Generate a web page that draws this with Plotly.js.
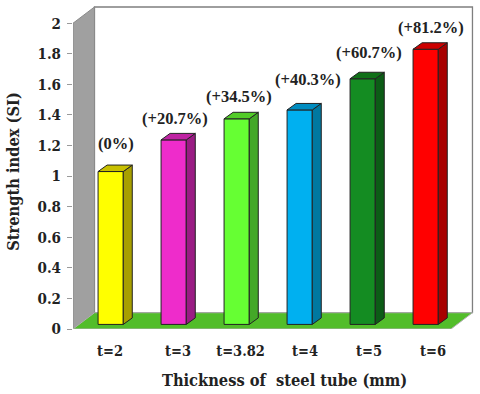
<!DOCTYPE html>
<html>
<head>
<meta charset="utf-8">
<script src="https://cdn.plot.ly/plotly-3.0.1.min.js"></script>
<style>html,body{margin:0;padding:0;background:#fff}</style>
</head>
<body>
<div id="chart" style="width:480px;height:394px"></div>
<script>
var categories = ['t=2', 't=3', 't=3.82', 't=4', 't=5', 't=6'];
var strengthIndex = [1.0, 1.207, 1.345, 1.403, 1.607, 1.80];
var gainLabels = ['(0%)', '(+20.7%)', '(+34.5%)', '(+40.3%)', '(+60.7%)', '(+81.2%)'];
var frontColors = ['#ffff00', '#ee2ccb', '#66ff33', '#00b0f0', '#148c22', '#ff0000'];
var sideColors = ['#a8a000', '#9a1c84', '#44a828', '#0078a0', '#0c5c16', '#a80000'];
var topColors = ['#c8c000', '#be22a2', '#52cc28', '#008cc0', '#107018', '#cc0000'];
var yTicks = [0, 0.2, 0.4, 0.6, 0.8, 1, 1.2, 1.4, 1.6, 1.8, 2];
var yTickText = ['0', '0.2', '0.4', '0.6', '0.8', '1', '1.2', '1.4', '1.6', '1.8', '2'];
var tickShift = [0.087, 0.167, 0.159, 0.183, 0.198, 0.214];
var labelShiftX = [5, 1, 2, 8, 6, 5];
var labelShiftY = [28, 21, 22, 30, 26, 22];

var FONT = 'Liberation Serif, serif';
var WIDE = 'DejaVu Serif Condensed, DejaVu Serif, serif';
var INK = '#222222';
var barOffset = 0.098, barWidth = 0.40, barBase = 0.03;
var barDx = 0.143, barDy = 0.0425;
var wallDx = 0.341, wallDy = 0.1065;
var xMin = -0.5, xMax = 5.897, yMax = 2.126;

var xs = categories.map(function (_, i) { return i + barOffset; });
var tops = strengthIndex.map(function (v) { return v + barBase; });
var traces = [{
  type: 'bar', x: xs, y: strengthIndex,
  base: strengthIndex.map(function () { return barBase; }),
  width: barWidth, hoverinfo: 'skip',
  marker: { color: frontColors, line: { color: INK, width: 1 } }
}];
tops.forEach(function (v, i) {
  var l = xs[i] - barWidth / 2, r = xs[i] + barWidth / 2;
  traces.push({
    type: 'scatter', mode: 'lines', fill: 'toself', fillcolor: sideColors[i], hoverinfo: 'skip',
    line: { color: INK, width: 1 },
    x: [r, r + barDx, r + barDx, r, r],
    y: [barBase, barBase + barDy, v + barDy, v, barBase]
  });
  traces.push({
    type: 'scatter', mode: 'lines', fill: 'toself', fillcolor: topColors[i], hoverinfo: 'skip',
    line: { color: INK, width: 1 },
    x: [l, l + barDx, r + barDx, r, l],
    y: [v, v + barDy, v + barDy, v, v]
  });
});

function poly(pts) {
  return 'M' + pts.map(function (p) { return p[0] + ',' + p[1]; }).join('L') + 'Z';
}
var backLeft = xMin + wallDx, backRight = 5.5 + wallDx;
var shapes = [
  { type: 'rect', layer: 'below', xref: 'x', yref: 'y', x0: backLeft, x1: backRight, y0: wallDy, y1: 2 + wallDy,
    fillcolor: '#ffffff', line: { color: '#7f7f7f', width: 1.3 } },
  { type: 'path', layer: 'below', xref: 'x', yref: 'y',
    path: poly([[xMin, 0], [xMin, 2], [backLeft, 2 + wallDy], [backLeft, wallDy]]),
    fillcolor: '#a0a0a0', line: { color: '#8a8a8a', width: 1 } },
  { type: 'path', layer: 'below', xref: 'x', yref: 'y',
    path: poly([[xMin, 0], [5.5, 0], [backRight, wallDy], [backLeft, wallDy]]),
    fillcolor: '#52bd2a', line: { color: '#b0b0b0', width: 1 } }
];

var annotations = gainLabels.map(function (t, i) {
  return { x: i + barOffset, y: tops[i], xref: 'x', yref: 'y', text: '<b>' + t + '</b>', showarrow: false,
    xshift: labelShiftX[i], yshift: labelShiftY[i], xanchor: 'center', yanchor: 'middle',
    font: { family: FONT, size: 16.5, color: INK } };
});
annotations.push({ xref: 'paper', yref: 'paper', x: (284 - 73) / 403, y: (329.3 - 381) / 325.3,
  text: '<b>Thickness of  steel tube (mm)</b>', showarrow: false, xanchor: 'center', yanchor: 'middle',
  font: { family: WIDE, size: 16.3, color: INK } });
annotations.push({ xref: 'paper', yref: 'paper', x: (14 - 73) / 403, y: (329.3 - 172) / 325.3,
  text: '<b>Strength index (SI)</b>', textangle: -90, showarrow: false, xanchor: 'center', yanchor: 'middle',
  font: { family: WIDE, size: 16.3, color: INK } });

Plotly.newPlot('chart', traces, {
  width: 480, height: 394, autosize: false, showlegend: false,
  paper_bgcolor: '#ffffff', plot_bgcolor: '#ffffff',
  margin: { l: 73, r: 4, t: 4, b: 64.7, pad: 0 },
  bargap: 0,
  xaxis: { range: [xMin, xMax], showgrid: false, zeroline: false, showline: false, ticks: '', fixedrange: true,
    tickmode: 'array', tickvals: tickShift.map(function (s, i) { return i + s; }), ticktext: categories.map(function (c) { return '<b>' + c + '</b>'; }),
    tickangle: 0, ticklabelstandoff: 11, tickfont: { family: WIDE, size: 14.5, color: INK } },
  yaxis: { range: [0, yMax], showgrid: false, zeroline: false, showline: false, fixedrange: true,
    tickmode: 'array', tickvals: yTicks, ticktext: yTickText.map(function (c) { return '<b>' + c + '</b>'; }),
    ticks: 'outside', ticklen: 5, tickwidth: 1, tickcolor: '#9a9a9a', ticklabelstandoff: 3,
    tickfont: { family: WIDE, size: 15, color: INK } },
  shapes: shapes, annotations: annotations
}, { displayModeBar: false, staticPlot: true });
</script>
</body>
</html>
